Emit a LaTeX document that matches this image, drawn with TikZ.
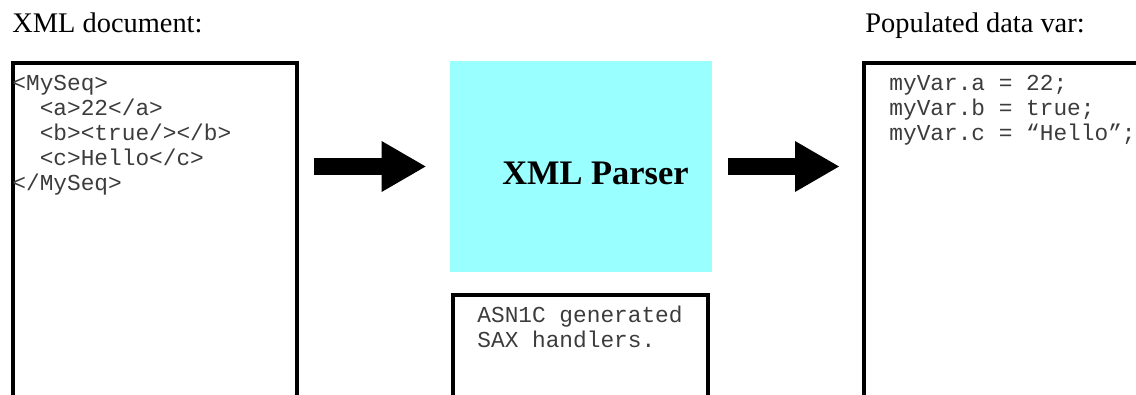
\documentclass[tikz,border=0pt]{standalone}
\usepackage{fontspec}
\setmainfont{Liberation Serif}
\setmonofont{Liberation Mono}
\usetikzlibrary{arrows.meta}
\definecolor{parsercyan}{RGB}{153,255,255}
\definecolor{codegray}{RGB}{60,60,60}

\begin{document}
\begin{tikzpicture}[x=0.5pt, y=-0.5pt,
    panel/.style={rectangle, draw=black, line width=2pt, inner sep=0pt},
    code/.style={anchor=north west, inner sep=0pt, align=left, text=codegray, font=\fontsize{11.4}{12.5}\selectfont\ttfamily},
    heading/.style={anchor=base west, inner sep=0pt, font=\fontsize{14.2}{17}\selectfont},
    fatarrow/.style={line width=8.5pt, -{Triangle[length=22pt, width=25.5pt, line width=0pt]}}]
    \clip (0,0) rectangle (1136,395);

    % Headings
    \node[heading] (docheading) at (12,33) {XML document:};
    \node[heading] (varheading) at (865,32.5) {Populated data var:};

    % XML document
    \node[panel, minimum width=142pt, minimum height=183.5pt] (xmldoc) at (155,246.5) {};
    \node[code] (xmlcode) at (12,72.5) {\strut<MySeq>\\\ \ <a>22</a>\\\ \ <b><true/></b>\\\ \ <c>Hello</c>\\</MySeq>};

    % Parser
    \node[rectangle, fill=parsercyan, inner sep=0pt, minimum width=131pt, minimum height=105.5pt] (parser) at (581,166.5) {};
    \node[anchor=base, inner sep=0pt, font=\fontsize{17.2}{20}\selectfont\bfseries] (parserlabel) at (595.5,185) {XML Parser};

    % SAX handlers
    \node[panel, minimum width=127.5pt, minimum height=67.25pt] (saxbox) at (580.5,362.75) {};
    \node[code] (saxcode) at (477,304.5) {\strut ASN1C generated\\SAX handlers.};

    % Populated data var
    \node[panel, minimum width=148pt, minimum height=183.5pt] (vardata) at (1012,246.5) {};
    \node[code] (varcode) at (889,72.5) {\strut myVar.a = 22;\\myVar.b = true;\\myVar.c = “Hello”;};

    % Arrows
    \draw[fatarrow, shorten <=7.5pt, shorten >=12pt] (xmldoc.east |- parser.west) -- (parser.west);
    \draw[fatarrow, shorten <=8pt, shorten >=11.5pt] (parser.east) -- (vardata.west |- parser.east);
\end{tikzpicture}
\end{document}
